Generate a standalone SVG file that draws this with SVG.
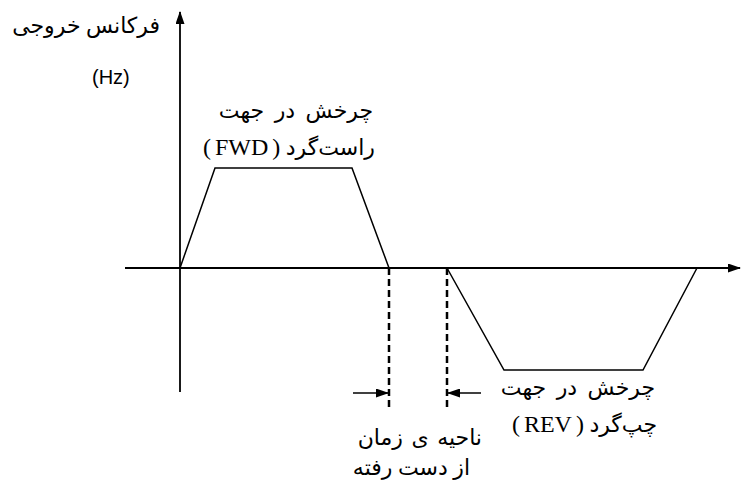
<svg xmlns="http://www.w3.org/2000/svg" width="741" height="486" viewBox="0 0 741 486">
<style>
.ln{stroke:#000;stroke-width:1.5;fill:none}
.ax{stroke:#000;stroke-width:1.8;fill:none}
.dash{stroke:#000;stroke-width:2.5;stroke-dasharray:7 4;fill:none}
.fa{font-family:"Liberation Serif","DejaVu Sans",serif;font-size:22px;fill:#000;direction:rtl;unicode-bidi:embed}
.lat{font-size:24px;word-spacing:-2px}
.hz{font-family:"Liberation Sans",Arial,sans-serif;font-size:20px;fill:#000}
</style>
<defs>
<marker id="ah" markerWidth="13" markerHeight="9" refX="12" refY="4.5" orient="auto" markerUnits="userSpaceOnUse">
<path d="M0,0 L13,4.5 L0,9 Z" fill="#000"/>
</marker>
</defs>
<rect width="741" height="486" fill="#fff"/>
<g id="connectors">
<line class="ax" x1="180" y1="392" x2="180" y2="12" marker-end="url(#ah)"/>
<line class="ax" x1="125" y1="268" x2="740" y2="268" marker-end="url(#ah)"/>
<polyline class="ln" points="180,268 215,168 352,168 389,268"/>
<polyline class="ln" points="447,268 504,370 643,370 697,268"/>
<line class="dash" x1="389" y1="268" x2="389" y2="408"/>
<line class="dash" x1="447" y1="268" x2="447" y2="408"/>
<line class="ln" x1="353" y1="393" x2="388" y2="393" marker-end="url(#ah)"/>
<line class="ln" x1="481" y1="393" x2="448" y2="393" marker-end="url(#ah)"/>
</g>
<g id="yaxis-label">
<text class="fa" x="160" y="33" text-anchor="start">فرکانس خروجی</text>
<text class="hz" x="92" y="84">(Hz)</text>
</g>
<g id="fwd-label">
<text class="fa" x="373" y="118" text-anchor="start" word-spacing="5">چرخش در جهت</text>
<text class="fa" x="375" y="155" text-anchor="start">راست‌گرد <tspan class="lat">( FWD )</tspan></text>
</g>
<g id="lost-time-label">
<text class="fa" x="482" y="445" text-anchor="start" word-spacing="3">ناحیه ی زمان</text>
<text class="fa" x="470" y="475" text-anchor="start" font-size="21">از دست رفته</text>
</g>
<g id="rev-label">
<text class="fa" x="655" y="395" text-anchor="start" word-spacing="5">چرخش در جهت</text>
<text class="fa" x="657" y="432" text-anchor="start">چپ‌گرد <tspan class="lat">( REV )</tspan></text>
</g>
</svg>
